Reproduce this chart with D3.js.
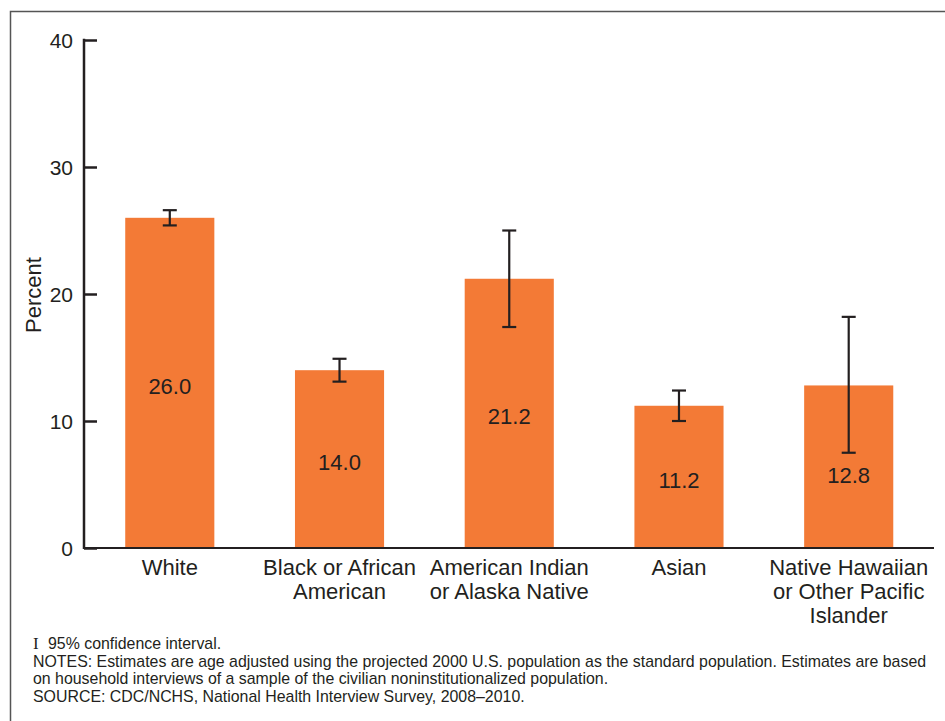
<!DOCTYPE html>
<html>
<head>
<meta charset="utf-8">
<script src="https://cdn.jsdelivr.net/npm/d3@7"></script>
<style>
  body { margin: 0; background: #fff; }
  svg text { font-family: "Liberation Sans", Arial, sans-serif; fill: #231f20; }
</style>
</head>
<body>
<div id="chart"></div>
<script>
var categories = [
  ["White"],
  ["Black or African", "American"],
  ["American Indian", "or Alaska Native"],
  ["Asian"],
  ["Native Hawaiian", "or Other Pacific", "Islander"]
];
var values = [26.0, 14.0, 21.2, 11.2, 12.8];
var ciLow = [25.4, 13.1, 17.4, 10.0, 7.5];
var ciHigh = [26.6, 14.9, 25.0, 12.4, 18.2];
var yTicks = [0, 10, 20, 30, 40];
var notes = [
  "95% confidence interval.",
  "NOTES: Estimates are age adjusted using the projected 2000 U.S. population as the standard population. Estimates are based",
  "on household interviews of a sample of the civilian noninstitutionalized population.",
  "SOURCE: CDC/NCHS, National Health Interview Survey, 2008\u20132010."
];

var width = 945, height = 721;
var ink = "#231f20";
var orange = "#f37a36";

var svg = d3.select("#chart").append("svg")
  .attr("width", width)
  .attr("height", height);

// frame (left + top edges only, as in the source page crop)
svg.append("path")
  .attr("d", "M10.5,721 V11.5 H945")
  .attr("fill", "none")
  .attr("stroke", "#555")
  .attr("stroke-width", 1.5);

var axisX = 84, plotRight = 934;

var y = d3.scaleLinear().domain([0, 40]).range([548, 40]);
var x = d3.scaleBand()
  .domain(d3.range(values.length))
  .range([axisX + 0.5, axisX + 850])
  .paddingInner(0.475)
  .paddingOuter(0.24);

var data = values.map(function (v, i) {
  return { i: i, value: v, lo: ciLow[i], hi: ciHigh[i], label: categories[i] };
});

// bars
svg.selectAll("rect.bar")
  .data(data)
  .enter().append("rect")
  .attr("class", "bar")
  .attr("x", function (d) { return x(d.i); })
  .attr("y", function (d) { return y(d.value); })
  .attr("width", x.bandwidth())
  .attr("height", function (d) { return y(0) - y(d.value); })
  .attr("fill", orange);

// y axis
var yAxis = d3.axisRight(y).tickValues(yTicks).tickSize(13).tickFormat("");
var gy = svg.append("g").attr("transform", "translate(" + axisX + ",0)").call(yAxis);
gy.select(".domain").remove();
gy.selectAll(".tick line").attr("stroke", ink).attr("stroke-width", 2.5);
gy.append("line")
  .attr("x1", 0).attr("x2", 0)
  .attr("y1", y(40) - 1.2).attr("y2", y(0) + 1)
  .attr("stroke", ink).attr("stroke-width", 2.5);

svg.append("g").selectAll("text")
  .data(yTicks)
  .enter().append("text")
  .attr("x", axisX - 11)
  .attr("y", function (d) { return y(d); })
  .attr("dy", "0.36em")
  .attr("text-anchor", "end")
  .style("font-size", "21px")
  .text(function (d) { return d; });

// baseline
svg.append("line")
  .attr("x1", axisX).attr("x2", plotRight)
  .attr("y1", y(0)).attr("y2", y(0))
  .attr("stroke", ink).attr("stroke-width", 2);

svg.append("text")
  .attr("transform", "translate(41," + (y(20) + 1) + ") rotate(-90)")
  .attr("text-anchor", "middle")
  .style("font-size", "22px")
  .text("Percent");

// error bars
var cap = 7;
var eb = svg.append("g").selectAll("g")
  .data(data)
  .enter().append("g")
  .attr("stroke", ink)
  .attr("stroke-width", 2.2);
eb.append("line")
  .attr("x1", function (d) { return x(d.i) + x.bandwidth() / 2; })
  .attr("x2", function (d) { return x(d.i) + x.bandwidth() / 2; })
  .attr("y1", function (d) { return y(d.lo); })
  .attr("y2", function (d) { return y(d.hi); });
eb.append("line")
  .attr("x1", function (d) { return x(d.i) + x.bandwidth() / 2 - cap; })
  .attr("x2", function (d) { return x(d.i) + x.bandwidth() / 2 + cap; })
  .attr("y1", function (d) { return y(d.lo); })
  .attr("y2", function (d) { return y(d.lo); });
eb.append("line")
  .attr("x1", function (d) { return x(d.i) + x.bandwidth() / 2 - cap; })
  .attr("x2", function (d) { return x(d.i) + x.bandwidth() / 2 + cap; })
  .attr("y1", function (d) { return y(d.hi); })
  .attr("y2", function (d) { return y(d.hi); });

// value labels inside bars
svg.append("g").selectAll("text")
  .data(data)
  .enter().append("text")
  .attr("x", function (d) { return x(d.i) + x.bandwidth() / 2; })
  .attr("y", function (d) {
    var mid = (y(d.value) + y(0)) / 2 + 3;
    return Math.max(mid, y(d.lo) + 22);
  })
  .attr("dy", "0.36em")
  .attr("text-anchor", "middle")
  .style("font-size", "22px")
  .text(function (d) { return d3.format(".1f")(d.value); });

// category labels
var cat = svg.append("g").selectAll("text")
  .data(data)
  .enter().append("text")
  .attr("x", function (d) { return x(d.i) + x.bandwidth() / 2; })
  .attr("y", 575)
  .attr("text-anchor", "middle")
  .style("font-size", "22px");
cat.selectAll("tspan")
  .data(function (d) { return d.label.map(function (t) { return { t: t, cx: x(d.i) + x.bandwidth() / 2 }; }); })
  .enter().append("tspan")
  .attr("x", function (d) { return d.cx; })
  .attr("dy", function (d, j) { return j === 0 ? 0 : 24; })
  .text(function (d) { return d.t; });

// footnotes
var foot = svg.append("g").attr("transform", "translate(33,0)");
foot.append("text")
  .attr("x", 0).attr("y", 649)
  .style("font-family", "'Liberation Serif', serif")
  .style("font-size", "17px")
  .text("I");
foot.selectAll("text.note")
  .data(notes)
  .enter().append("text")
  .attr("class", "note")
  .attr("x", function (d, i) { return i === 0 ? 15 : 0; })
  .attr("y", function (d, i) { return 649 + i * 17.7; })
  .style("font-size", "15.9px")
  .text(function (d) { return d; });
</script>
</body>
</html>
